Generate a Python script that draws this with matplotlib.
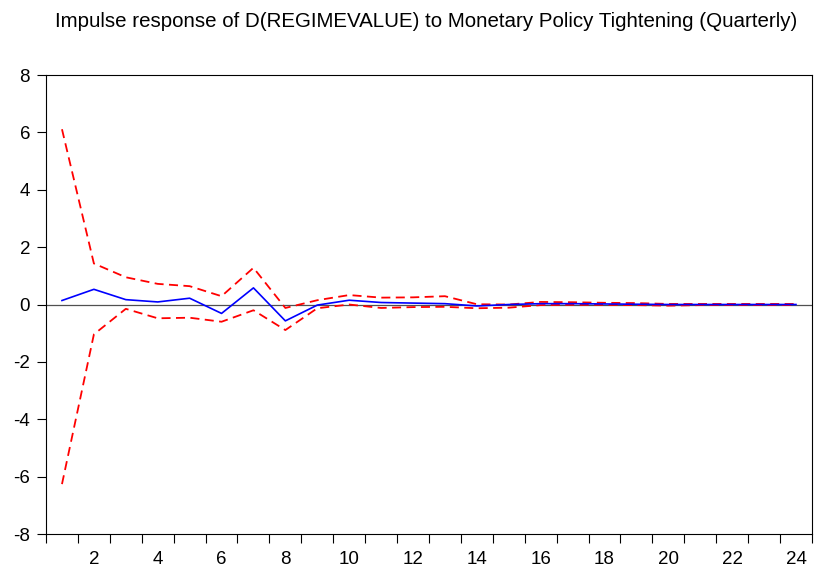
import numpy as np
import matplotlib.pyplot as plt
from matplotlib.ticker import FixedLocator

plt.rcParams['font.family'] = ['Liberation Sans', 'DejaVu Sans']

# periods 1..24
periods = np.arange(1, 25)
response = [0.14, 0.53, 0.17, 0.09, 0.22, -0.31, 0.58, -0.57,
            -0.02, 0.15, 0.07, 0.05, 0.03, -0.05, 0.00, 0.03,
            0.03, 0.02, 0.01, 0.00, 0.00, 0.00, 0.00, 0.00]
upper = [6.11, 1.43, 0.95, 0.72, 0.64, 0.29, 1.28, -0.12,
         0.15, 0.33, 0.24, 0.25, 0.29, 0.01, 0.00, 0.09,
         0.08, 0.06, 0.05, 0.02, 0.02, 0.02, 0.02, 0.02]
lower = [-6.26, -1.04, -0.15, -0.48, -0.46, -0.60, -0.20, -0.89,
         -0.13, 0.00, -0.12, -0.09, -0.08, -0.13, -0.11, -0.02,
         -0.01, -0.01, -0.02, -0.04, -0.02, -0.02, -0.02, -0.02]
yticks = [-8, -6, -4, -2, 0, 2, 4, 6, 8]
xlabels = list(range(2, 25, 2))

fig = plt.figure(figsize=(8.16, 5.70), dpi=100)
ax = fig.add_axes([0.0564, 0.0631, 0.9386, 0.8053])

ax.axhline(0, color="#505050", lw=0.9, zorder=1)
ax.plot(periods, upper, color="#ff0000", lw=1.3, dashes=(5, 3), zorder=2)
ax.plot(periods, lower, color="#ff0000", lw=1.3, dashes=(5, 3), zorder=2)
ax.plot(periods, response, color="#0000ff", lw=1.2, zorder=3)

ax.set_xlim(0.5, 24.5)
ax.set_ylim(-8, 8)
ax.set_yticks(yticks)
ax.set_yticklabels([str(v) for v in yticks])

# boundaries as major ticks, labels on minor ticks
ax.xaxis.set_major_locator(FixedLocator(np.arange(0.5, 25, 1)))
ax.xaxis.set_minor_locator(FixedLocator(xlabels))
ax.set_xticklabels([], minor=False)
ax.set_xticklabels([str(v) for v in xlabels], minor=True)
ax.tick_params(axis="x", which="major", direction="out", length=6.5, width=0.8)
ax.tick_params(axis="x", which="minor", length=0, pad=12, labelsize=13.5)
ax.tick_params(axis="y", direction="out", length=6.5, width=0.8, pad=5, labelsize=13.5)

for s in ax.spines.values():
    s.set_linewidth(0.8)

fig.text(0.522, 0.963, "Impulse response of D(REGIMEVALUE) to Monetary Policy Tightening (Quarterly)",
         ha="center", va="center", fontsize=14.8)

fig.savefig("out.png", dpi=100)
